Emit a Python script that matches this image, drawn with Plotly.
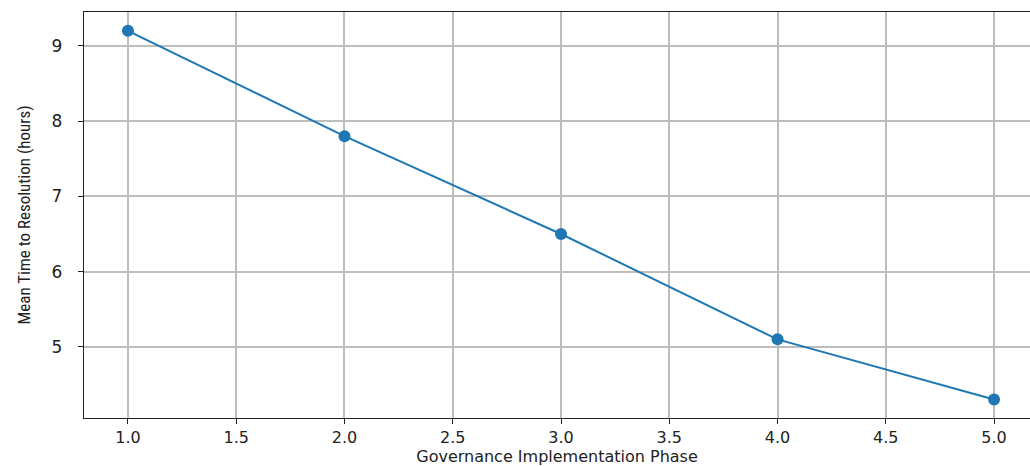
import plotly.graph_objects as go

phases = [1, 2, 3, 4, 5]
mttr_hours = [9.2, 7.8, 6.5, 5.1, 4.3]
x_ticks = [1.0, 1.5, 2.0, 2.5, 3.0, 3.5, 4.0, 4.5, 5.0]
x_tick_labels = ["1.0", "1.5", "2.0", "2.5", "3.0", "3.5", "4.0", "4.5", "5.0"]
y_ticks = [5, 6, 7, 8, 9]

fig = go.Figure()
fig.add_trace(go.Scatter(
    x=phases, y=mttr_hours, mode="lines+markers",
    line=dict(color="#1f77b4", width=2),
    marker=dict(color="#1f77b4", size=12),
    showlegend=False,
))

fig.update_layout(
    width=1030, height=466,
    margin=dict(l=84, r=0, t=12, b=48),
    paper_bgcolor="white", plot_bgcolor="white",
    font=dict(family="DejaVu Sans", color="#222222"),
    xaxis=dict(
        range=[0.797, 5.166],
        tickmode="array", tickvals=x_ticks, ticktext=x_tick_labels,
        showgrid=True, gridcolor="#bdbdbd", gridwidth=1.5,
        showline=True, linecolor="#222222", linewidth=1.3, mirror=True,
        ticks="outside", ticklen=5, tickcolor="#222222",
        tickfont=dict(size=16, family="DejaVu Sans"),
        zeroline=False,
        title=dict(text="Governance Implementation Phase",
                   font=dict(size=16, family="DejaVu Sans"), standoff=5),
    ),
    yaxis=dict(
        range=[4.055, 9.45],
        tickmode="array", tickvals=y_ticks,
        showgrid=True, gridcolor="#bdbdbd", gridwidth=1.5,
        showline=True, linecolor="#222222", linewidth=1.3, mirror=False,
        ticks="outside", ticklen=5, tickcolor="#222222",
        tickfont=dict(size=17, family="DejaVu Sans"),
        ticklabelstandoff=12,
        zeroline=False,
        title=dict(text="Mean Time to Resolution (hours)",
                   font=dict(size=17, family="Liberation Sans Narrow, Roboto Condensed, sans-serif"),
                   standoff=16),
    ),
)

fig.write_html("out.html", config={"displayModeBar": False},
               post_script="document.body.style.margin='0';document.body.style.overflow='hidden';")
